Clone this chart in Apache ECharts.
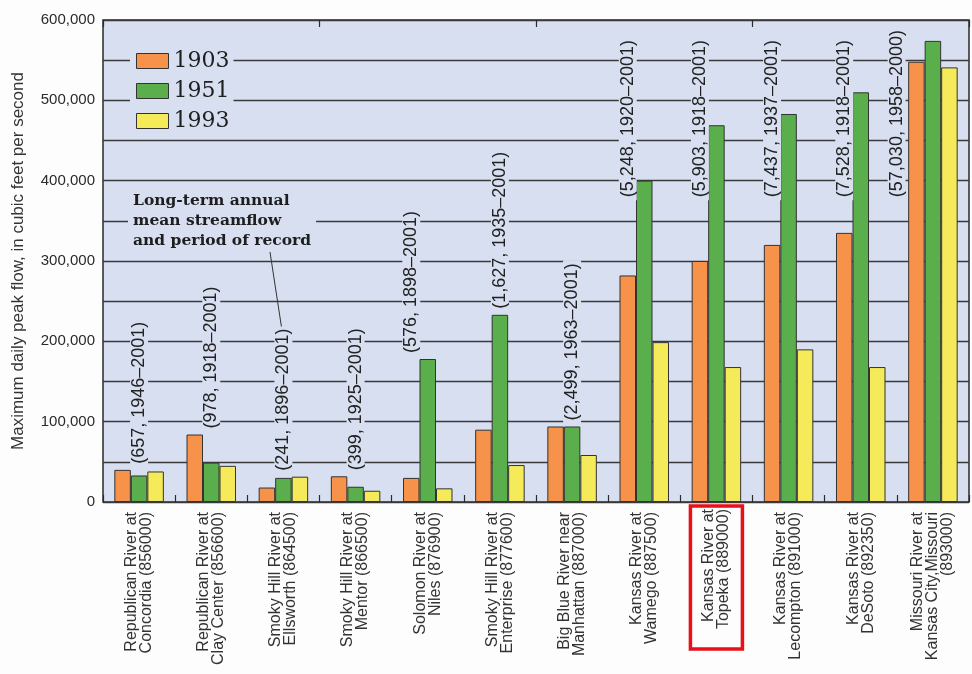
<!DOCTYPE html>
<html>
<head>
<meta charset="utf-8">
<title>Peak flows, Kansas River basin</title>
<script src="https://cdn.jsdelivr.net/npm/echarts@6/dist/echarts.min.js"></script>
<style>
  html, body { margin: 0; padding: 0; background: #fdfdfd; }
  #chart { width: 972px; height: 674px; }
</style>
</head>
<body>
<div id="chart"></div>
<script>
// Stream-gaging stations, upstream to downstream
const stations = [
  'Republican River at\nConcordia (856000)',
  'Republican River at\nClay Center (856600)',
  'Smoky Hill River at\nEllsworth (864500)',
  'Smoky Hill River at\nMentor (866500)',
  'Solomon River at\nNiles (876900)',
  'Smoky Hill River at\nEnterprise (877600)',
  'Big Blue River near\nManhattan (887000)',
  'Kansas River at\nWamego (887500)',
  'Kansas River at\nTopeka (889000)',
  'Kansas River at\nLecompton (891000)',
  'Kansas River at\nDeSoto (892350)',
  'Missouri River at\nKansas City,Missouri\n(893000)'
];

// Maximum daily peak flow, cubic feet per second
const flood1903 = [40000, 84000, 18000, 32000, 30000, 90000, 94000, 282000, 300000, 320000, 335000, 548000];
const flood1951 = [33000, 49000, 30000, 19000, 178000, 233000, 94000, 400000, 469000, 483000, 510000, 574000];
const flood1993 = [38000, 45000, 31500, 14000, 17000, 46000, 58500, 199000, 168000, 190000, 168000, 541000];

// Long-term annual mean streamflow and period of record
const meanFlowNotes = [
  '(657, 1946–2001)',
  '(978, 1918–2001)',
  '(241, 1896–2001)',
  '(399, 1925–2001)',
  '(576, 1898–2001)',
  '(1,627, 1935–2001)',
  '(2,499, 1963–2001)',
  '(5,248, 1920–2001)',
  '(5,903, 1918–2001)',
  '(7,437, 1937–2001)',
  '(7,528, 1918–2001)',
  '(57,030, 1958–2000)'
];

const highlightedStation = 8;   // Topeka

// ---- layout / style ----
const PLOT_BG = '#d7dff0';
const INK = '#2a2a2a';
const BAR_W = 16.5;
const NOTE_FONT_SIZE = 18;
const NOTE_FONT = NOTE_FONT_SIZE + 'px "Liberation Sans", Arial, sans-serif';
const NOTE_GAP = 3;
const NOTE_PAD = 3;
const NOTE_CEILING = 372000;                 // notes never start above this level
// horizontal shift of each note, in bar widths from the category centre
const noteShift = [0, 0, 0, 0, -1, 0, 0, -1, -1, -1, -1, -2.2];

function noteBase(i) {
  return Math.min(Math.max(flood1903[i], flood1951[i], flood1993[i]), NOTE_CEILING);
}

const noteData = meanFlowNotes.map((t, i) => [i, noteBase(i)]);

const barStyle = { borderColor: '#333', borderWidth: 1 };

const option = {
  animation: false,
  backgroundColor: '#fdfdfd',
  textStyle: { fontFamily: '"Liberation Sans", Arial, sans-serif' },
  grid: {
    left: 103, right: 3, top: 20, bottom: 172,
    show: true, backgroundColor: PLOT_BG, borderColor: INK, borderWidth: 1.5
  },
  legend: {
    data: ['1903', '1951', '1993'],
    orient: 'vertical',
    left: 130, top: 48,
    itemWidth: 32, itemHeight: 15, itemGap: 8,
    icon: 'rect',
    backgroundColor: PLOT_BG,
    padding: [2, 4, 2, 6],
    itemStyle: { borderColor: '#333', borderWidth: 1 },
    textStyle: { fontFamily: '"DejaVu Serif", serif', fontSize: 22, color: '#1e1e1e' }
  },
  xAxis: [{
    type: 'category',
    data: stations.map((s, i) => i === highlightedStation
      ? { value: s, textStyle: { borderColor: '#e8101a', borderWidth: 3.5, padding: [11, 3, 11, 20] } }
      : s),
    axisLine: { show: false },
    axisTick: { show: true, inside: true, length: 7, lineStyle: { color: INK, width: 1.2 } },
    axisLabel: {
      rotate: 90, margin: 4, interval: 0,
      fontSize: 16, lineHeight: 15, color: '#333',
      padding: [0, 6, 0, 6]
    }
  }, {
    type: 'category',
    position: 'top',
    data: stations,
    axisLine: { show: false },
    axisTick: { show: true, inside: true, length: 7, lineStyle: { color: INK, width: 1.2 } },
    axisLabel: { show: false }
  }],
  yAxis: {
    type: 'value',
    min: 0, max: 600000, interval: 50000,
    name: 'Maximum daily peak flow, in cubic feet per second',
    nameLocation: 'middle',
    nameGap: 76,
    nameTextStyle: { fontSize: 17, color: '#333' },
    axisLine: { show: false },
    axisTick: { show: false },
    axisLabel: {
      fontSize: 15, color: '#2a2a2a', margin: 8,
      formatter: v => (v % 100000 === 0 ? v.toLocaleString('en-US') : '')
    },
    splitLine: { lineStyle: { color: '#3a3a3a', width: 1.3 } }
  },
  series: [
    { name: '1903', type: 'bar', data: flood1903, barWidth: BAR_W, barGap: '0%',
      itemStyle: Object.assign({ color: '#f7924a' }, barStyle) },
    { name: '1951', type: 'bar', data: flood1951, barWidth: BAR_W, barGap: '0%',
      itemStyle: Object.assign({ color: '#5aae4c' }, barStyle) },
    { name: '1993', type: 'bar', data: flood1993, barWidth: BAR_W, barGap: '0%',
      itemStyle: Object.assign({ color: '#f5ea5a' }, barStyle) },
    {
      name: 'notes', type: 'custom', data: noteData, z: 4, clip: false,
      encode: { x: 0, y: 1 },
      renderItem: function (params, api) {
        const i = api.value(0);
        const p = api.coord([i, api.value(1)]);
        return {
          type: 'text',
          x: p[0] + noteShift[i] * BAR_W,
          y: p[1] - NOTE_GAP,
          rotation: Math.PI / 2,
          style: {
            text: meanFlowNotes[i],
            font: NOTE_FONT,
            fill: '#222',
            align: 'left',
            verticalAlign: 'middle',
            backgroundColor: PLOT_BG,
            padding: [0, NOTE_PAD, 0, NOTE_PAD]
          }
        };
      }
    }
  ]
};

const chart = echarts.init(document.getElementById('chart'), null, { renderer: 'canvas' });
chart.setOption(option);

// Caption explaining the notes, with a leader to the Ellsworth note
const ctx = document.createElement('canvas').getContext('2d');
ctx.font = NOTE_FONT;
const leaderIdx = 2;
const anchor = chart.convertToPixel({ xAxisIndex: 0, yAxisIndex: 0 }, [leaderIdx, noteBase(leaderIdx)]);
const noteTop = anchor[1] - NOTE_GAP - 2 * NOTE_PAD - ctx.measureText(meanFlowNotes[leaderIdx]).width;

chart.setOption({
  graphic: [
    {
      type: 'text', left: 128, top: 191, z: 10,
      style: {
        text: 'Long-term annual\nmean streamflow\nand period of record',
        font: 'bold 15.5px "DejaVu Serif", serif',
        lineHeight: 20,
        fill: '#1e1e1e',
        backgroundColor: PLOT_BG,
        padding: [0, 5, 0, 5]
      }
    },
    {
      type: 'line', z: 10,
      shape: { x1: 270, y1: 252, x2: anchor[0] - 2, y2: noteTop + 1 },
      style: { stroke: '#333', lineWidth: 1 }
    }
  ]
});
</script>
</body>
</html>
